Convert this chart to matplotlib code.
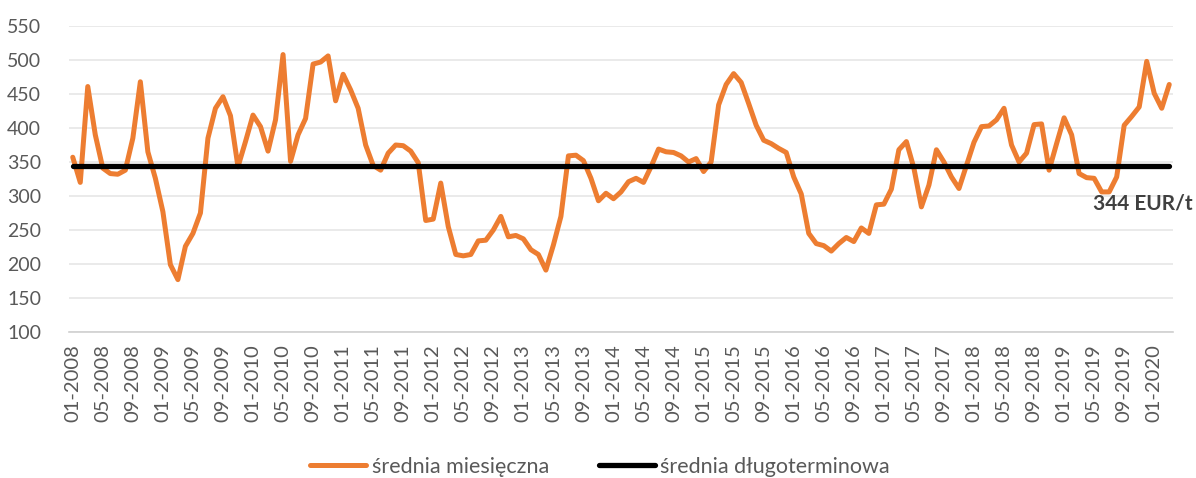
import matplotlib
matplotlib.use("Agg")
import matplotlib.pyplot as plt
import pandas as pd

plt.rcParams['font.family'] = ['Lato', 'DejaVu Sans']

start_month = "2008-01"
monthly_avg = [
    357, 320, 461, 390, 341, 333, 332, 338, 385, 468, 365, 326,
    277, 199, 177, 226, 245, 275, 385, 429, 446, 418, 343, 380,
    419, 402, 366, 412, 508, 351, 390, 414, 494, 497, 506, 440,
    479, 456, 429, 375, 345, 338, 363, 375, 374, 366, 349, 264,
    266, 319, 255, 214, 212, 214, 234, 235, 250, 270, 240, 242,
    237, 221, 214, 191, 228, 270, 359, 360, 352, 326, 293, 304,
    296, 306, 321, 326, 320, 343, 369, 365, 364, 359, 350, 355,
    336, 350, 434, 464, 480, 467, 436, 404, 382, 377, 370, 364,
    328, 303, 245, 230, 227, 219, 230, 239, 233, 253, 245, 287,
    288, 310, 368, 380, 341, 284, 316, 368, 350, 328, 311, 345,
    379, 402, 403, 412, 429, 375, 350, 363, 405, 406, 338, 377,
    415, 390, 333, 327, 326, 306, 306, 328, 404, 417, 431, 498,
    451, 429, 464,
]
long_term_avg = 344
series_names = ["średnia miesięczna", "średnia długoterminowa"]
annotation = "344 EUR/t"
y_ticks = [100, 150, 200, 250, 300, 350, 400, 450, 500, 550]

months = pd.period_range(start=start_month, periods=len(monthly_avg), freq="M")
x = list(range(len(monthly_avg)))
tick_pos = x[::4]
tick_labels = [months[i].strftime("%m-%Y") for i in tick_pos]

fig = plt.figure(figsize=(11.96, 4.78), dpi=100)
ax = fig.add_axes([69/1196, 1-332/478, (1173-69)/1196, (332-26)/478])

ax.plot(x, monthly_avg, color="#ED7D31", lw=3.6, solid_joinstyle="round",
        solid_capstyle="round", label=series_names[0], zorder=3)
ax.plot(x, [long_term_avg]*len(x), color="black", lw=3.8,
        solid_capstyle="round", label=series_names[1], zorder=4)

ax.set_xlim(-0.5, len(x) - 0.5)
ax.set_ylim(100, 550)
ax.set_yticks(y_ticks)
ax.set_xticks(tick_pos)
ax.set_xticklabels(tick_labels, rotation=90)
ax.tick_params(axis="both", length=0, colors="#595959")
ax.tick_params(axis="x", labelsize=14.5, pad=9)
ax.tick_params(axis="y", labelsize=14, pad=20)
ax.grid(axis="y", color="#e6e6e6", lw=1.2)
ax.set_axisbelow(True)
for s in ["top", "right", "left"]:
    ax.spines[s].set_visible(False)
ax.spines["bottom"].set_color("#d0d0d0")
ax.spines["bottom"].set_linewidth(1.2)

ax.text(1193/1196, 1-203/478, annotation, transform=fig.transFigure,
        ha="right", va="center", fontsize=15, fontweight="bold", color="#404040")

leg = fig.legend(loc="center", bbox_to_anchor=(600/1196, 1-467/478), ncol=2,
                 frameon=False, fontsize=15.5, handlelength=2.6, handletextpad=0.25,
                 columnspacing=2.3)
for t in leg.get_texts():
    t.set_color("#595959")

fig.savefig("out.png", dpi=100)
